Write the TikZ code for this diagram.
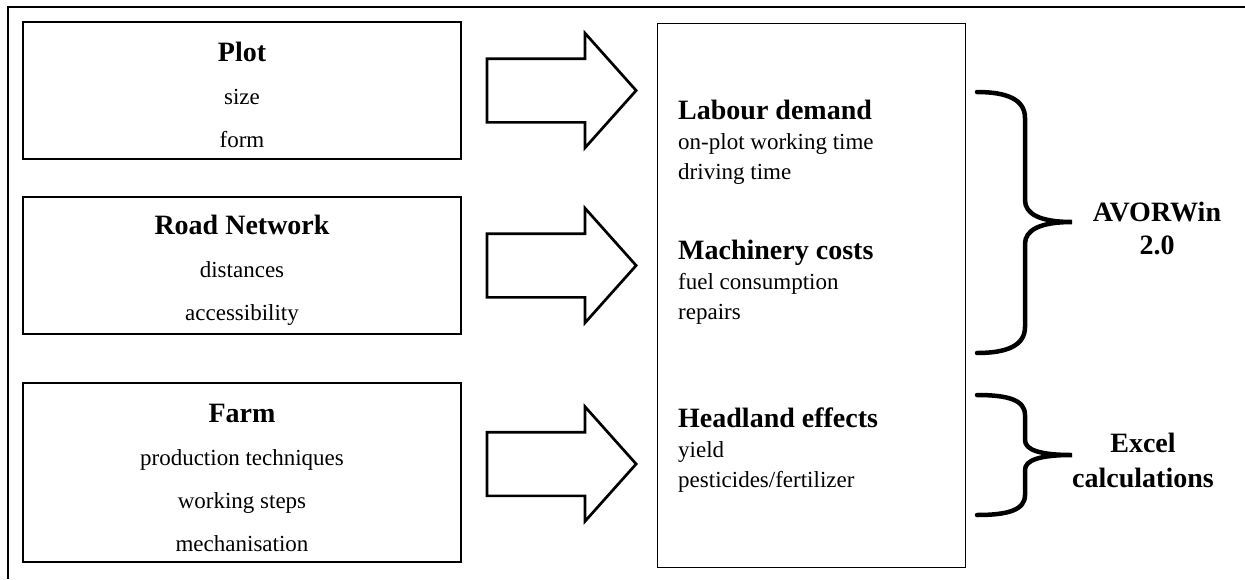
\documentclass[tikz,border=0pt]{standalone}
\usepackage{fontspec}
\setmainfont{Liberation Serif}
\usetikzlibrary{positioning,shapes.arrows}

\tikzset{
  inbox/.style={draw,line width=2pt,minimum width=438pt,align=center,inner sep=0pt,outer sep=0pt,font=\fontsize{23}{43}\selectfont},
  bigarrow/.style={single arrow,draw,line width=2.7pt,minimum height=0pt,minimum width=0pt,inner xsep=59pt,inner ysep=30.5pt,single arrow head extend=25.5pt,single arrow tip angle=96.5,outer sep=0pt},
  item/.style={anchor=north west,align=left,inner sep=0pt,font=\fontsize{23}{30}\selectfont},
  bracestroke/.style={line width=4.5pt,line cap=round},
  result/.style={align=center,font=\fontsize{28}{33}\selectfont\bfseries}
}
\newcommand{\hd}[1]{{\fontsize{28}{33}\selectfont\bfseries #1}}
\newcommand{\boxhd}[1]{\rule{0pt}{29pt}\hd{#1}}

\begin{document}
\begin{tikzpicture}[x=1pt,y=-1pt]
	\useasboundingbox (0,0) rectangle (1245,579);
	% frame
	\draw[line width=2pt] (8,579) |- (1245,7);

	% inputs
	\node[inbox,minimum height=137pt] (plot) at (242,90.5) {\boxhd{Plot}\\size\\form};
	\node[inbox,minimum height=137pt] (road) [below=38pt of plot] {\boxhd{Road Network}\\distances\\accessibility};
	\node[inbox,minimum height=179pt] (farm) [below=49pt of road] {\boxhd{Farm}\\production techniques\\working steps\\mechanisation};

	\node[bigarrow] (toplot) [right=26pt of plot] {};
	\node[bigarrow] (toroad) [right=26pt of road] {};
	\node[bigarrow,yshift=8.5pt] (tofarm) [right=26pt of farm] {};

	% model
	\node[draw,line width=1pt,minimum width=308pt,minimum height=544pt] (model) at (811,295) {};
	\node[item] (labour) at (678,100) {\hd{Labour demand}\\on-plot working time\\driving time};
	\node[item] (machinery) at (678,240) {\hd{Machinery costs}\\fuel consumption\\repairs};
	\node[item] (headland) at (678,408) {\hd{Headland effects}\\yield\\pesticides/fertilizer};

	% braces
	\draw[bracestroke] (977,92) .. controls (1008,92) and (1025,100) .. (1025,118) -- (1025,200)
		.. controls (1025,214) and (1040,222) .. (1072,222)
		.. controls (1040,222) and (1025,230) .. (1025,244) -- (1025,327)
		.. controls (1025,345) and (1008,353) .. (977,353);
	\draw[bracestroke] (977,395) .. controls (1008,395) and (1025,400) .. (1025,415) -- (1025,440)
		.. controls (1025,450) and (1040,455) .. (1072,455)
		.. controls (1040,455) and (1025,460) .. (1025,470) -- (1025,495)
		.. controls (1025,510) and (1008,515) .. (977,515);

	\node[result] (avorwin) at (1157,228) {AVORWin\\2.0};
	\node[result] (excel) at (1143,460) {Excel\\[2pt]calculations};
\end{tikzpicture}
\end{document}
